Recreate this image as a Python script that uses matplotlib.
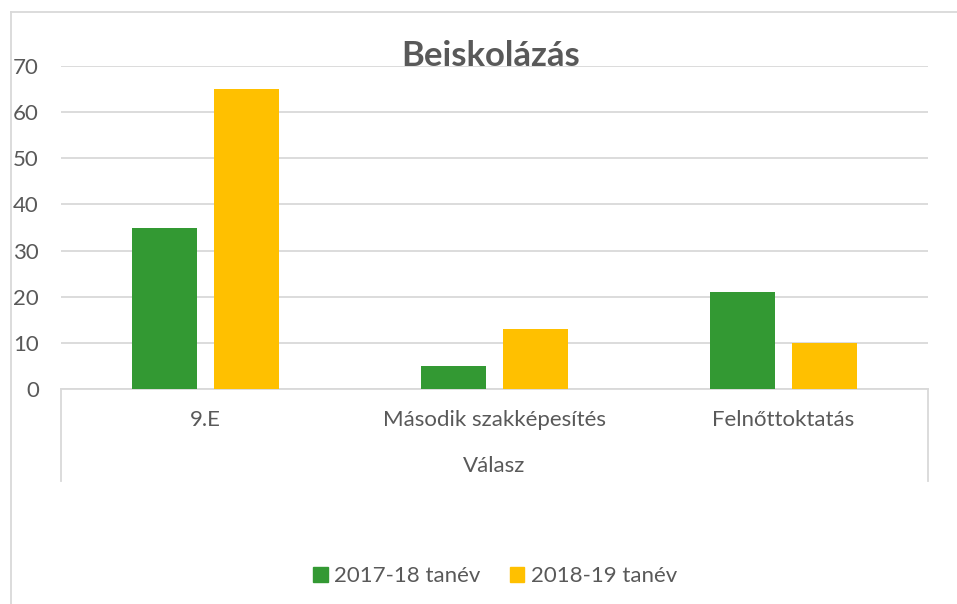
import matplotlib
matplotlib.use("Agg")
import matplotlib.pyplot as plt
from matplotlib.lines import Line2D
from matplotlib.patches import Rectangle
import numpy as np

categories = ["9.E", "Második szakképesítés", "Felnőttoktatás"]
series_names = ["2017-18 tanév", "2018-19 tanév"]
values_2017 = [35, 5, 21]
values_2018 = [65, 13, 10]
yticks = [0, 10, 20, 30, 40, 50, 60, 70]

GREEN = "#339933"
YELLOW = "#FFC000"
TEXT = "#595959"
GRID = "#D9D9D9"
FONT = ["Lato", "DejaVu Sans"]
FS = 16

W, H = 957, 604
fig = plt.figure(figsize=(W / 100, H / 100), dpi=100)
plt.rcParams['font.family'] = FONT

def fx(px):
    return px / W

def fy(py):
    return 1 - py / H

left, right, top, bottom = 61, 928, 66, 389
ax = fig.add_axes([fx(left), fy(bottom), fx(right - left), fy(top) - fy(bottom)])

x = np.arange(len(categories))
bw = 0.222
off = 0.142
ax.bar(x - off, values_2017, bw, color=GREEN, label=series_names[0], zorder=3)
ax.bar(x + off, values_2018, bw, color=YELLOW, label=series_names[1], zorder=3)

ax.set_xlim(-0.5, 2.5)
ax.set_ylim(0, 70)
ax.set_yticks(yticks)
ax.set_yticklabels([str(v) for v in yticks], fontsize=FS, color=TEXT)
ax.tick_params(axis='y', length=0, pad=16)
ax.set_xticks([])
ax.grid(axis='y', color=GRID, linewidth=1.3, zorder=0)
for s in ["top", "right", "left"]:
    ax.spines[s].set_visible(False)
ax.spines["bottom"].set_color(GRID)
ax.spines["bottom"].set_linewidth(1.3)

# category labels
for i, c in enumerate(categories):
    ax.text(i, -31 / (bottom - top), c, transform=ax.get_xaxis_transform(),
            ha='center', va='center', fontsize=FS, color=TEXT)

# axis title
fig.text(fx((left + right) / 2), fy(466), "Válasz", ha='center', va='center',
         fontsize=FS, color=TEXT)

# category grouping separators
for xp in (left, right):
    fig.add_artist(Line2D([fx(xp), fx(xp)], [fy(bottom), fy(481)], color=GRID, lw=1.3))

# outer chart border
fig.add_artist(Line2D([fx(11), fx(957)], [fy(12), fy(12)], color=GRID, lw=1.3))
fig.add_artist(Line2D([fx(11), fx(11)], [fy(12), fy(604)], color=GRID, lw=1.3))

# title
fig.text(fx(491), fy(56), "Beiskolázás", ha='center', va='center', fontsize=25,
         fontweight='bold', color=TEXT)

# legend
fig.legend(handles=[Rectangle((0, 0), 1, 1, color=GREEN), Rectangle((0, 0), 1, 1, color=YELLOW)],
           labels=series_names, loc='center', bbox_to_anchor=(fx(495), fy(576)), ncol=2,
           frameon=False, fontsize=FS, labelcolor=TEXT, handlelength=0.65, handleheight=0.65,
           handletextpad=0.3, columnspacing=1.3)

fig.savefig("out.png", dpi=100)
